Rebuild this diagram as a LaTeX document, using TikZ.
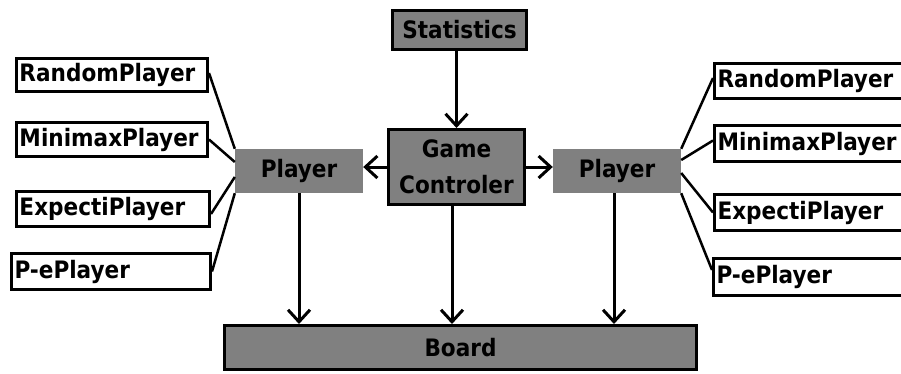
\documentclass[tikz,border=0pt]{standalone}
\usepackage{fontspec}
\newfontfamily\chicago{DejaVu Sans Condensed}[BoldFont={DejaVu Sans Condensed Bold}]
\usetikzlibrary{arrows.meta}
\definecolor{boxgray}{HTML}{808080}
\begin{document}
\begin{tikzpicture}[x=1pt,y=-1pt,
  lbl/.style={font=\chicago\bfseries\fontsize{24}{36}\selectfont, inner sep=0pt},
  graybox/.style={lbl, fill=boxgray, draw=black, line width=3pt},
  softbox/.style={lbl, fill=boxgray},
  whitebox/.style={lbl, fill=white, draw=black, line width=3pt, inner xsep=3pt, align=left},
  arr/.style={line width=3pt, -{Straight Barb[length=12pt,width=22pt]}},
  link/.style={line width=2.5pt}]
\useasboundingbox (0,0) rectangle (901,373);

% central column
\node[graybox, minimum width=134, minimum height=39] (stats) at (459.5,30) {Statistics};
\node[graybox, minimum width=136, minimum height=75, align=center] (gc) at (456.5,167) {Game\\Controler};
\node[graybox, minimum width=472, minimum height=44] (board) at (460.5,347.5) {Board};

% the two players
\node[softbox, minimum width=128, minimum height=44] (pl) at (299,171) {Player};
\node[softbox, minimum width=128, minimum height=44] (pr) at (617,171) {Player};

% left player kinds
\node[whitebox, text width=185pt, minimum height=33] (lr) at (112,75) {RandomPlayer};
\node[whitebox, text width=185pt, minimum height=34] (lm) at (112,139.5) {MinimaxPlayer};
\node[whitebox, text width=187pt, minimum height=35] (le) at (113,209) {ExpectiPlayer};
\node[whitebox, text width=193pt, minimum height=36] (lp) at (111,271.5) {P-ePlayer};

% right player kinds (running past the right edge)
\node[whitebox, text width=184pt, minimum height=35] (rr) at (809.5,81) {RandomPlayer};
\node[whitebox, text width=184pt, minimum height=36] (rm) at (809.5,143.5) {MinimaxPlayer};
\node[whitebox, text width=184pt, minimum height=36] (re) at (809.5,212.5) {ExpectiPlayer};
\node[whitebox, text width=185pt, minimum height=37] (rp) at (809,277) {P-ePlayer};

% control flow
\draw[arr] (gc.north |- stats.south) -- (gc.north);
\draw[arr] (gc.west) -- (gc.west -| pl.east);
\draw[arr] (gc.east) -- (gc.east -| pr.west);
\draw[arr] (pl.south) -- (pl.south |- board.north);
\draw[arr] ([xshift=-4.5pt]gc.south) -- ([xshift=-4.5pt]gc.south |- board.north);
\draw[arr] ([xshift=-3pt]pr.south) -- ([xshift=-3pt]pr.south |- board.north);

% player kinds attached to each player
\draw[link] ([yshift=2pt]lr.east) -- (pl.north west);
\draw[link] (lm.east) -- ([yshift=9pt]pl.west);
\draw[link] ([yshift=-5pt]le.east) -- ([yshift=-6pt]pl.west);
\draw[link] (lp.east) -- (pl.south west);

\draw[link] (pr.north east) -- ([yshift=3pt]rr.west);
\draw[link] ([yshift=11pt]pr.east) -- ([yshift=3pt]rm.west);
\draw[link] ([yshift=-2pt]pr.east) -- (re.west);
\draw[link] (pr.south east) -- ([yshift=7pt]rp.west);
\end{tikzpicture}
\end{document}
